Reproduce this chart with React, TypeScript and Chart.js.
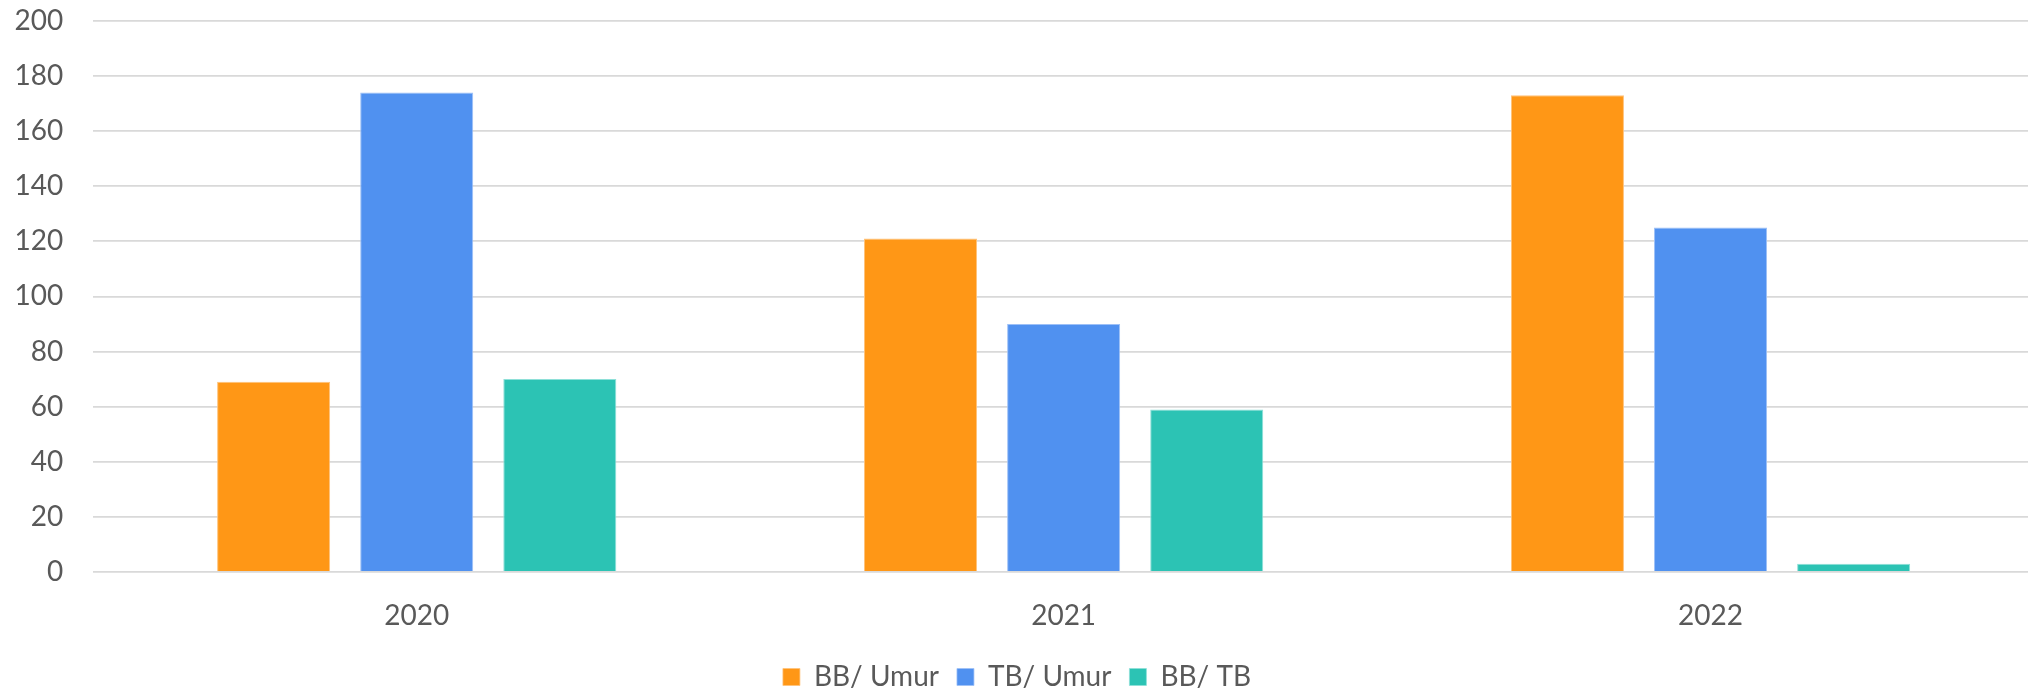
import React, { useEffect, useRef } from "react";
import { Chart, registerables } from "chart.js";

Chart.register(...registerables);

const categories = ["2020", "2021", "2022"];
const seriesNames = ["BB/ Umur", "TB/ Umur", "BB/ TB"];
const bbUmur = [69, 121, 173];
const tbUmur = [174, 90, 125];
const bbTb = [70, 59, 3];
const yTickMin = 0;
const yTickMax = 200;
const yTickStep = 20;

const colors = ["#FF9716", "#5091F0", "#2CC3B4"];
const borders = ["#FFC27A", "#9DC0F7", "#8EE0D8"];

export default function App() {
  const ref = useRef<HTMLCanvasElement | null>(null);
  useEffect(() => {
    if (!ref.current) return;
    const font = { family: "Lato, 'Open Sans', sans-serif", size: 28 };
    const chart = new Chart(ref.current, {
      type: "bar",
      data: {
        labels: categories,
        datasets: [bbUmur, tbUmur, bbTb].map((d, i) => ({
          label: seriesNames[i],
          data: d,
          backgroundColor: colors[i],
          borderColor: borders[i],
          borderWidth: { top: 1, left: 1, right: 1, bottom: 0 },
          categoryPercentage: 0.6636,
          barPercentage: 0.79,
        })),
      },
      options: {
        animation: false,
        responsive: false,
        maintainAspectRatio: false,
        layout: { padding: { top: 21, left: 0, right: 0, bottom: -6 } },
        plugins: {
          tooltip: { enabled: false },
          legend: {
            position: "bottom",
            labels: {
              color: "#595959",
              font,
              boxWidth: 17,
              boxHeight: 17,
              padding: 18,
            },
          },
        },
        scales: {
          x: {
            grid: { display: false, drawTicks: false },
            border: { display: false },
            ticks: { color: "#595959", font, padding: 27.5 },
            afterFit: (scale: any) => {
              scale.height -= 15.5;
            },
          },
          y: {
            min: yTickMin,
            max: yTickMax,
            grid: { color: "#d9d9d9", lineWidth: 1.8, drawTicks: false },
            border: { display: false },
            ticks: { color: "#595959", font, padding: 30, stepSize: yTickStep },
            afterFit: (scale: any) => {
              scale.width = 93.25;
              scale.paddingTop = 0;
              scale.paddingBottom = 0;
            },
          },
        },
      },
    });
    return () => chart.destroy();
  }, []);
  return (
    <div
      style={{
        position: "fixed",
        left: 0,
        top: 0,
        width: 2028,
        height: 695,
        overflow: "hidden",
        background: "#fff",
      }}
    >
      <canvas ref={ref} width={2034} height={695} style={{ width: 2034, height: 695, display: "block" }} />
    </div>
  );
}
